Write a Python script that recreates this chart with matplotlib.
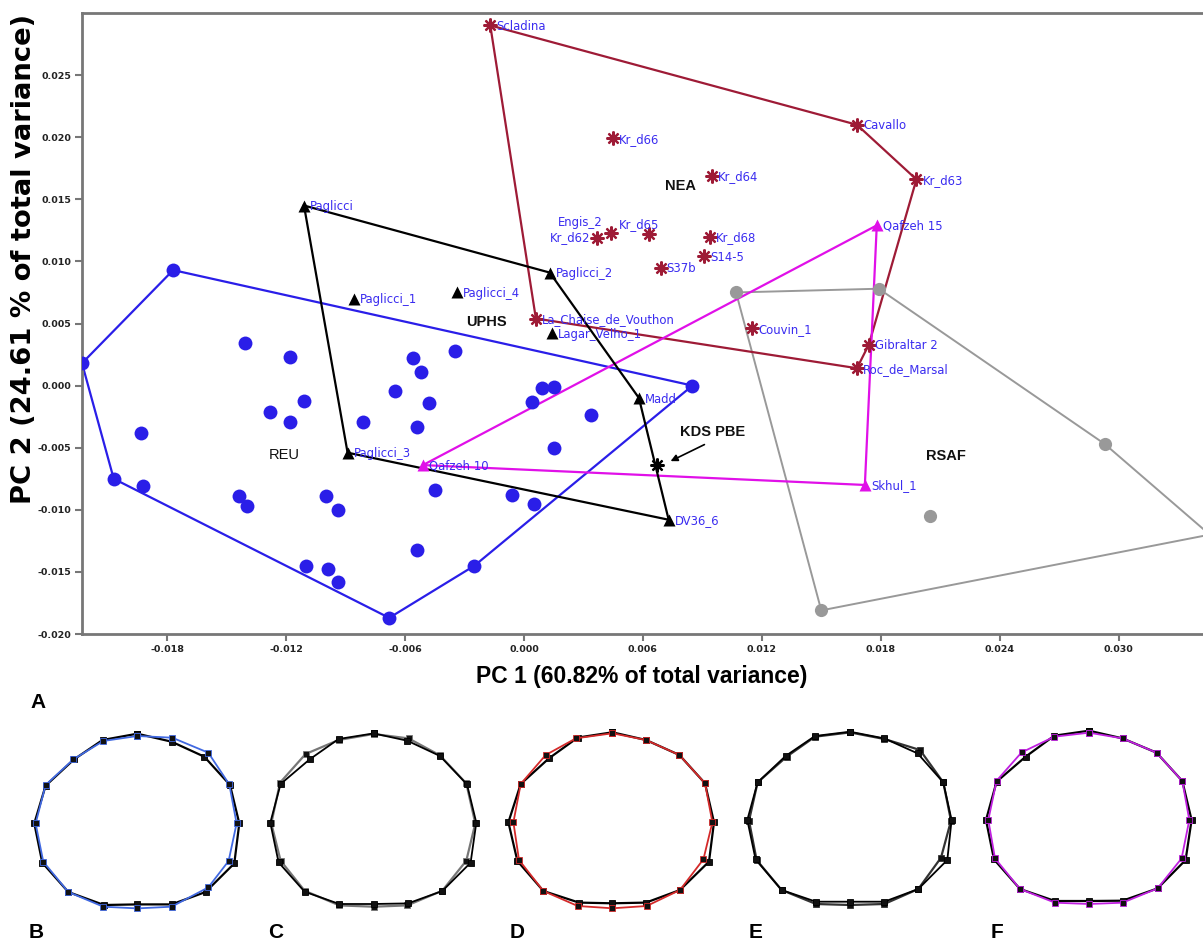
import numpy as np
import matplotlib
matplotlib.use("Agg")
from matplotlib import pyplot as plt

# ---- PCA scores ----
# REU: first six points are the convex hull, in drawing order
reu_x = [-0.0223, -0.0177, 0.0085, -0.0025, -0.0068, -0.0207,
         -0.0141, -0.0118, -0.0111, -0.0128, -0.0118, -0.0193, -0.0081, -0.0065,
         -0.0192, -0.0144, -0.0140, -0.0100, -0.0094, -0.0110, -0.0099, -0.0094,
         -0.0056, -0.0035, -0.0052, -0.0048, -0.0054, 0.0009, 0.0015, 0.0004,
         0.0034, 0.0015, -0.0045, -0.0006, 0.0005, -0.0054]
reu_y = [0.0018, 0.0093, 0.0000, -0.0145, -0.0187, -0.0075,
         0.0034, 0.0023, -0.0012, -0.0021, -0.0029, -0.0038, -0.0029, -0.0004,
         -0.0081, -0.0089, -0.0097, -0.0089, -0.0100, -0.0145, -0.0148, -0.0158,
         0.0022, 0.0028, 0.0011, -0.0014, -0.0033, -0.0002, -0.0001, -0.0013,
         -0.0024, -0.0050, -0.0084, -0.0088, -0.0095, -0.0132]
reu_hull = [0, 1, 2, 3, 4, 5]

uphs_names = ["Paglicci", "Paglicci_1", "Paglicci_4", "Paglicci_2",
              "Lagar_Velho_1", "Madd", "DV36_6", "Paglicci_3"]
uphs_x = [-0.0111, -0.0086, -0.0034, 0.0013, 0.0014, 0.0058, 0.0073, -0.0089]
uphs_y = [0.0145, 0.0070, 0.0075, 0.0091, 0.0042, -0.0010, -0.0108, -0.0054]
uphs_hull = [0, 3, 5, 6, 7]

nea_names = ["Scladina", "Cavallo", "Kr_d63", "Gibraltar 2", "Roc_de_Marsal",
             "La_Chaise_de_Vouthon", "Kr_d66", "Kr_d64", "Kr_d62", "Engis_2",
             "Kr_d65", "Kr_d68", "S14-5", "S37b", "Couvin_1"]
nea_x = [-0.0017, 0.0168, 0.0198, 0.0174, 0.0168, 0.0006, 0.0045, 0.0095,
         0.0037, 0.0044, 0.0063, 0.0094, 0.0091, 0.0069, 0.0115]
nea_y = [0.0290, 0.0210, 0.0166, 0.0033, 0.0014, 0.0054, 0.0199, 0.0169,
         0.0119, 0.0123, 0.0122, 0.0120, 0.0104, 0.0095, 0.0046]
nea_hull = [0, 1, 2, 3, 4, 5]

rsaf_x = [0.0107, 0.0179, 0.0293, 0.0346, 0.0150, 0.0205]
rsaf_y = [0.0075, 0.0078, -0.0047, -0.0120, -0.0181, -0.0105]
rsaf_hull = [0, 1, 2, 3, 4]

qs_names = ["Qafzeh 15", "Skhul_1", "Qafzeh 10"]
qs_x = [0.0178, 0.0172, -0.0051]
qs_y = [0.0129, -0.0080, -0.0064]

kds_x, kds_y = 0.0067, -0.0064

group_names = ["NEA", "UPHS", "REU", "RSAF"]
group_x = [0.0079, -0.0019, -0.0121, 0.0213]
group_y = [0.0161, 0.0051, -0.0056, -0.0057]

xticks = [-0.018, -0.012, -0.006, 0.000, 0.006, 0.012, 0.018, 0.024, 0.030]
yticks = [-0.020, -0.015, -0.010, -0.005, 0.000, 0.005, 0.010, 0.015, 0.020, 0.025]

# ---- landmark outlines for panels B-F (px offsets from panel centre) ----
b_mean = [(0, 87), (34.3, 79), (67, 64), (92.7, 35.7), (102, -2.7), (97, -42.7),
          (68.3, -71.3), (34.3, -83.7), (0, -83.7), (-33.3, -84.3), (-69, -71.3),
          (-95, -42), (-103, -2.7), (-91.7, 35), (-63.3, 61.3), (-34.7, 80.7)]
b_reu = [(0, 84.7), (35, 83), (71, 68), (92, 36.3), (99.3, -2.7), (91.3, -40.3),
         (71, -66.7), (34.3, -86), (0, -87.7), (-34, -86), (-69, -71.3),
         (-94, -41), (-101.7, -2.7), (-91.7, 35.7), (-64, 61.3), (-34, 79.7)]
c_mean = [(0.3, 85.3), (34, 78), (66.7, 62.7), (93.7, 34.3), (103, -4), (97.3, -44),
          (69, -72.3), (34.7, -84.7), (0.3, -85.3), (-34, -85.3), (-68.7, -73),
          (-94.7, -43.7), (-103, -4), (-92.7, 34.7), (-63.7, 59.3), (-34.7, 79.7)]
c_uphs = [(0.3, 84.7), (35.3, 80.3), (66.7, 63.3), (93, 35.3), (102, -4.7), (93, -42),
          (69, -72), (34, -86.7), (0.3, -88), (-34, -86.7), (-68.7, -72),
          (-92.7, -42), (-102, -4.7), (-93.3, 36), (-67.7, 64.7), (-34.7, 78.7)]
d_mean = [(0.7, 86), (34.3, 78.3), (67.7, 63.3), (93.3, 35), (102.3, -4), (97.3, -43.3),
          (68.3, -71.7), (34.3, -84.3), (0.7, -85), (-32.7, -84.3), (-68.3, -72.7),
          (-94.3, -42.7), (-103.3, -4), (-91, 34.3), (-62.7, 60), (-34, 80.7)]
d_nea = [(0.7, 85), (34.3, 78.3), (67.7, 63.3), (93.3, 35), (100.7, -4), (91.7, -41),
         (68.3, -71.7), (35, -87.7), (0.7, -90), (-34, -87.7), (-68.3, -72.7),
         (-92.7, -41.7), (-98.3, -4), (-91, 34.3), (-66, 63.3), (-35.7, 80)]
e_mean = [(0.7, 86), (35, 79.3), (68.3, 64.3), (94, 35.3), (102.3, -2.3), (98, -42.3),
          (69, -71.3), (35, -84), (0.7, -84), (-33.3, -84), (-67.7, -72.3),
          (-93.7, -41.7), (-102, -2.3), (-91.7, 35.3), (-63.7, 61.7), (-34.3, 81.7)]
e_rsaf = [(0.7, 85.3), (35, 78.7), (70.7, 67.7), (94, 35.3), (101.7, -3), (91.7, -40),
          (69, -71.3), (35, -86.3), (0.7, -87.3), (-33.3, -86.3), (-67.7, -72.3),
          (-92.7, -42.3), (-100.3, -3), (-91.7, 35.3), (-62.7, 61), (-34.3, 81)]
f_mean = [(0.2, 86), (33.8, 78.3), (67.8, 64), (93.5, 35.7), (102.8, -3.3), (96.8, -43.3),
          (68.8, -71.7), (33.8, -84), (0.2, -84.3), (-33.8, -84.3), (-68.8, -72.3),
          (-94.8, -42.7), (-102.8, -3.3), (-92.2, 35), (-63.2, 60), (-34.5, 81)]
f_qs = [(0.2, 84), (33.8, 78.3), (67.8, 64), (93.5, 35.7), (100.5, -3.3), (92.8, -41.7),
        (68.8, -71.7), (33.8, -86), (0.2, -87.3), (-33.8, -86), (-68.8, -72.3),
        (-93.8, -41.7), (-100.5, -3.3), (-92.2, 36), (-67.2, 64.3), (-34.5, 80)]

W, H = 1203, 944
fig = plt.figure(figsize=(W / 100, H / 100), dpi=100)
ax = fig.add_axes([82 / W, 1 - 634 / H, 1121 / W, 621 / H])

c_reu = "#2a1ee8"
c_nea = "#9e1b36"
c_qs = "#e010e8"
c_rsaf = "#999999"
c_lab = "#3a2cf0"


def closed(xs, ys, idx):
    idx = list(idx) + [idx[0]]
    return [xs[i] for i in idx], [ys[i] for i in idx]


# hulls
hx, hy = closed(reu_x, reu_y, reu_hull)
ax.plot(hx, hy, color=c_reu, lw=1.6, zorder=2)
hx, hy = closed(rsaf_x, rsaf_y, rsaf_hull)
ax.plot(hx, hy, color=c_rsaf, lw=1.4, zorder=2)
hx, hy = closed(nea_x, nea_y, nea_hull)
ax.plot(hx, hy, color=c_nea, lw=1.6, zorder=2)
hx, hy = closed(qs_x, qs_y, [0, 1, 2])
ax.plot(hx, hy, color=c_qs, lw=1.6, zorder=2)
hx, hy = closed(uphs_x, uphs_y, uphs_hull)
ax.plot(hx, hy, color="black", lw=1.6, zorder=2)

# points
ax.plot(reu_x, reu_y, "o", ms=10, color=c_reu, mec="none", zorder=3)
ax.plot(rsaf_x, rsaf_y, "o", ms=9.5, color=c_rsaf, mec="none", zorder=3)
ax.plot(nea_x, nea_y, ls="none", marker=(8, 2, 0), ms=10, mec=c_nea, mew=1.6, zorder=3)
ax.plot(qs_x, qs_y, "^", ms=8, color=c_qs, mec="none", zorder=3)
ax.plot(uphs_x, uphs_y, "^", ms=8, color="black", mec="none", zorder=3)
ax.plot([kds_x], [kds_y], ls="none", marker=(8, 2, 0), ms=10, mec="black", mew=1.6, zorder=3)

# specimen labels
special = {"Kr_d62": (-7, 0, "right"), "Engis_2": (-9, 10, "right"),
           "Kr_d65": (-30, 10, "left")}
for names, xs, ys in [(uphs_names, uphs_x, uphs_y), (nea_names, nea_x, nea_y),
                      (qs_names, qs_x, qs_y)]:
    for n, x, y in zip(names, xs, ys):
        dx, dy, ha = special.get(n, (6, -1, "left"))
        ax.annotate(n, (x, y), xytext=(dx, dy), textcoords="offset pixels",
                    ha=ha, va="center", fontsize=8.4, color=c_lab, zorder=4)

for n, x, y in zip(group_names, group_x, group_y):
    ax.text(x, y, n, ha="center", va="center", fontsize=10.5,
            family="Liberation Sans", fontweight="normal" if n == "REU" else "bold",
            color="#111111", zorder=4)

ax.text(0.00949, -0.00377, "KDS PBE", ha="center", va="center", fontsize=10.5,
        family="Liberation Sans", fontweight="bold", color="#111111")
ax.annotate("", xy=(0.00727, -0.00618), xytext=(0.00923, -0.00465),
            arrowprops=dict(arrowstyle="-|>", color="black", lw=1.2, mutation_scale=10))

# axes
ax.set_xlim(-0.0223, 0.03426)
ax.set_ylim(-0.0200, 0.0300)
ax.set_xticks(xticks)
ax.set_yticks(yticks)
ax.set_xticklabels(["%.3f" % v for v in xticks], fontweight="bold")
ax.set_yticklabels(["%.3f" % v for v in yticks], fontweight="bold")
ax.tick_params(direction="out", length=5, width=1.5, color="#777777",
               labelsize=6.8, pad=3, labelcolor="#222222")
for s in ["left", "bottom", "top"]:
    ax.spines[s].set_color("#777777")
    ax.spines[s].set_linewidth(2)
ax.spines["right"].set_visible(False)

fig.text(642 / W, 1 - 676 / H, "PC 1 (60.82% of total variance)", ha="center",
         va="center", fontsize=16.5, fontweight="bold", family="Liberation Sans")
fig.text(24 / W, 1 - 259 / H, "PC 2 (24.61 % of total variance)", ha="center",
         va="center", rotation=90, fontsize=19.7, fontweight="bold", family="DejaVu Sans")

# ---- panels B-F ----
panel_centres = [(137.3, 820.7), (373.3, 818.7), (611.7, 818.3), (849.3, 817.7), (1088.8, 816.7)]
panel_lines = [
    [(b_mean, "black"), (b_reu, "#4169e1")],
    [(c_uphs, "#777777"), (c_mean, "black")],
    [(d_mean, "black"), (d_nea, "#d42a2a")],
    [(e_rsaf, "#333333"), (e_mean, "black")],
    [(f_mean, "black"), (f_qs, "#c020e0")],
]
for (cx, cy), lines in zip(panel_centres, panel_lines):
    pa = fig.add_axes([(cx - 115) / W, (H - cy - 100) / H, 230 / W, 200 / H])
    pa.set_xlim(-115, 115)
    pa.set_ylim(-100, 100)
    pa.axis("off")
    for i, (pts, col) in enumerate(lines):
        xs = [p[0] for p in pts] + [pts[0][0]]
        ys = [p[1] for p in pts] + [pts[0][1]]
        pa.plot(xs, ys, color=col, lw=1.6 if i == 0 else 1.3, marker="s",
                ms=4.8 if i == 0 else 3.8, mfc="#111111", mec=col, mew=0.6)

for letter, x, y in [("A", 38, 703), ("B", 36, 933), ("C", 276, 933),
                     ("D", 517, 932), ("E", 756, 932), ("F", 997, 932)]:
    fig.text(x / W, 1 - y / H, letter, ha="center", va="center", fontsize=15,
             fontweight="bold", family="Liberation Sans")

fig.savefig("out.png", dpi=100)
